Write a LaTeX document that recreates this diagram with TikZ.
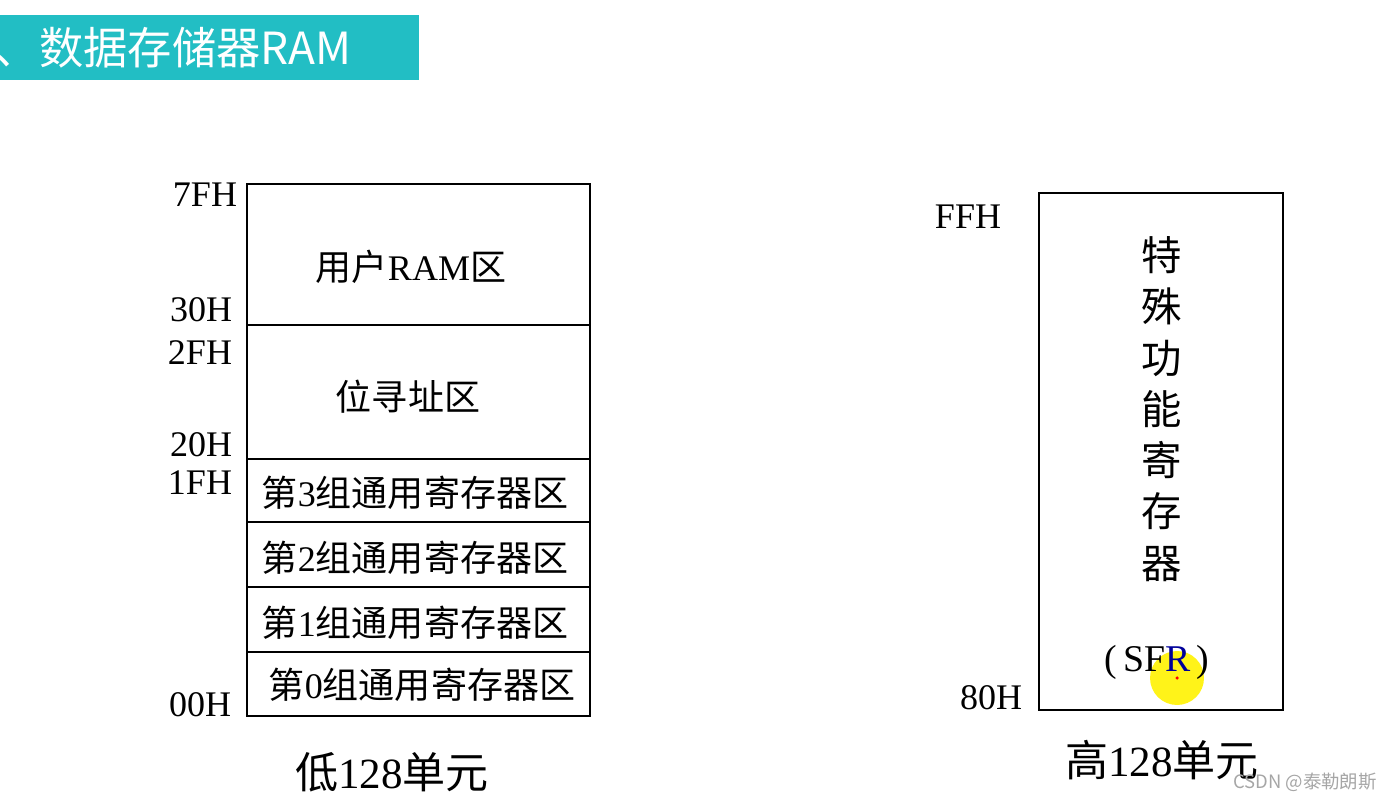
\documentclass[tikz,border=0pt]{standalone}
\usepackage{fontspec}
\setmainfont{Liberation Serif}
\newfontfamily\cjk{Noto Sans CJK SC}
\newcommand{\zh}[1]{{\cjk #1}}
\definecolor{titlebar}{RGB}{34,190,196}

\begin{document}
\begin{tikzpicture}[x=0.02cm, y=-0.02cm, line width=1.1pt,
    addr/.style={anchor=east, inner sep=0pt, font=\fontsize{20.5}{24}\selectfont},
    area/.style={inner sep=0pt, font=\fontsize{20.5}{24}\selectfont},
    unitlabel/.style={inner sep=0pt, font=\fontsize{24.5}{28}\selectfont}]
        \useasboundingbox (0,0) rectangle (1388,800);
        \fill[titlebar] (0,15) rectangle (419,80);
        \node[anchor=west, inner sep=0pt, text=white,
          font=\cjk\fontsize{25.2}{28}\selectfont] (title) at (-6,48) {、数据存储器RAM};
        \draw (247,184) rectangle (590,716);
        \draw (247,325) -- (590,325);
        \draw (247,459) -- (590,459);
        \draw (247,522) -- (590,522);
        \draw (247,587) -- (590,587);
        \draw (247,652) -- (590,652);
        \node[addr] (a7f) at (238,195) {7FH};
        \node[addr] (a30) at (233,310) {30H};
        \node[addr] (a2f) at (233,353) {2FH};
        \node[addr] (a20) at (233,445) {20H};
        \node[addr] (a1f) at (233,483) {1FH};
        \node[addr] (a00) at (232,705) {00H};
        \node[area] (userram) at (411,267) {\zh{用户}RAM\zh{区}};
        \node[area] (bitaddr) at (408,397) {\zh{位寻址区}};
        \node[area] (bank3) at (415,493) {\zh{第}3\zh{组通用寄存器区}};
        \node[area] (bank2) at (415,558) {\zh{第}2\zh{组通用寄存器区}};
        \node[area] (bank1) at (415,623) {\zh{第}1\zh{组通用寄存器区}};
        \node[area] (bank0) at (422,685) {\zh{第}0\zh{组通用寄存器区}};
        \node[unitlabel] (lowunits) at (392,772) {\zh{低}128\zh{单元}};
        \draw (1039,193) rectangle (1283,710);
        \node[addr] (aff) at (1002,217) {FFH};
        \node[addr] (a80) at (1023,698) {80H};
        \fill[yellow, opacity=0.9] (1177,678) circle[radius=0.54cm];
        \node[area, align=center, font=\cjk\fontsize{23}{29.2}\selectfont]
          (sfrname) at (1162,409) {特\\殊\\功\\能\\寄\\存\\器};
        \node[area, font=\fontsize{21.5}{24}\selectfont]
          (sfr) at (1157,662) {(\,SF\textcolor{blue!60!black}{R}\,)};
        \fill[red] (1177,678) circle[radius=1pt];
        \node[unitlabel] (highunits) at (1162,760) {\zh{高}128\zh{单元}};
        \node[inner sep=0pt, text=gray!70, font=\cjk\fontsize{10.5}{12}\selectfont]
          (mark) at (1305,782) {CSDN @泰勒朗斯};
      \end{tikzpicture}
\end{document}
